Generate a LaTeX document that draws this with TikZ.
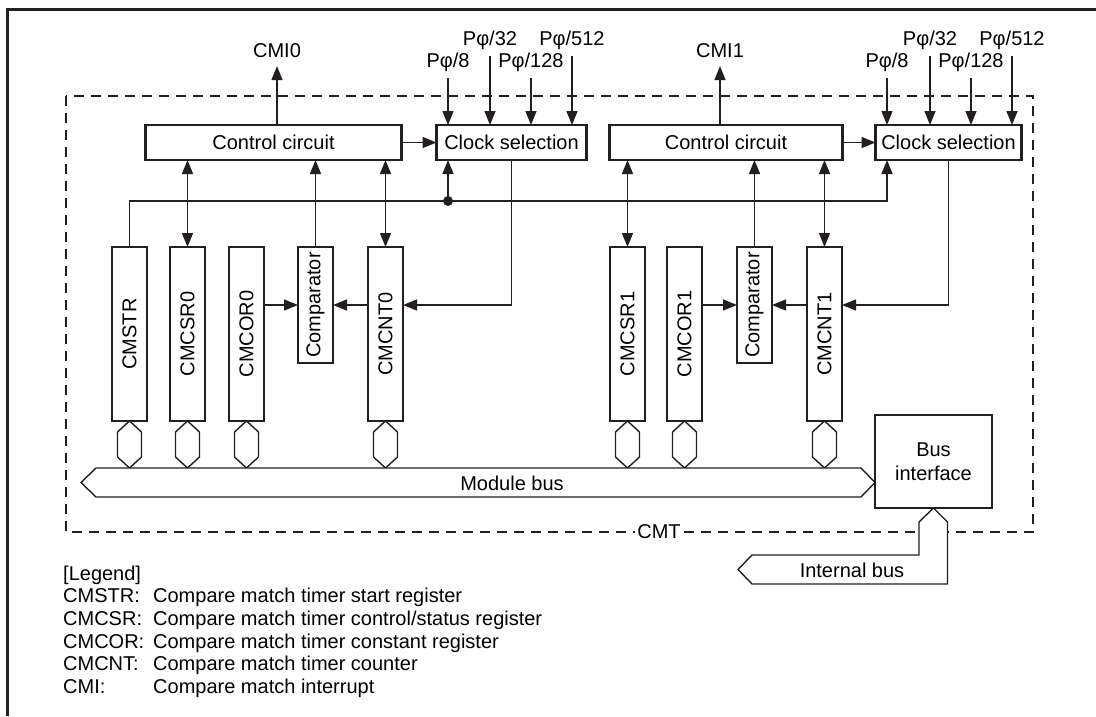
\documentclass[tikz,border=0pt]{standalone}
\usepackage{fontspec}
\setmainfont{Liberation Sans}
\usepackage{graphicx}
\usetikzlibrary{positioning,calc,arrows.meta}
\definecolor{ink}{HTML}{231F20}

\begin{document}
\begin{tikzpicture}[
      x=1pt,y=-1pt,
      font=\fontsize{20}{24}\selectfont,
      block/.style={draw=ink,line width=2.8pt,rectangle,minimum height=35pt,inner sep=0pt,outer sep=0pt},
      reg/.style={block,minimum width=35pt,minimum height=174pt},
      cmpbox/.style={reg,minimum height=116pt},
      lbl/.style={inner sep=0pt,outer sep=7pt},
      arr/.style={-{Triangle[length=14pt,width=11pt]},ink,line width=1.4pt},
      darr/.style={{Triangle[length=14pt,width=11pt]}-{Triangle[length=14pt,width=11pt]},ink,line width=1.4pt},
      wire/.style={ink,line width=1.4pt},
      port/.style={draw=ink,line width=1.4pt,fill=white}]
      \useasboundingbox[fill=white] (0,0) rectangle (1096,716);
      \draw[ink,line width=3pt] (7,716) -- (7,9) -- (1096,9);
      \draw[wire,dash pattern=on 10pt off 7pt] (66,96) rectangle (1033,532);
      \node[fill=white,inner sep=2pt] (cmt) at (659,532) {CMT};

      % channel 0
      \node[block,minimum width=256pt] (ctrl0) at (273.5,142.5) {Control circuit};
      \node[block,minimum width=150pt,right=35pt of ctrl0] (clk0) {Clock selection};
      \node[reg] (cmstr) at (129.5,334) {\rotatebox{90}{CMSTR}};
      \node[reg,right=23pt of cmstr] (cmcsr0) {\rotatebox{90}{CMCSR0}};
      \node[reg,right=24pt of cmcsr0] (cmcor0) {\rotatebox{90}{CMCOR0}};
      \node[cmpbox,anchor=north west] (cmp0) at ([xshift=34pt]cmcor0.north east) {\rotatebox{90}{Comparator}};
      \node[reg,anchor=north west] (cmcnt0) at ([xshift=35pt]cmp0.north east) {\rotatebox{90}{CMCNT0}};

      % channel 1
      \node[block,minimum width=233pt] (ctrl1) at (726,142.5) {Control circuit};
      \node[block,minimum width=146pt,right=33pt of ctrl1] (clk1) {Clock selection};
      \node[reg] (cmcsr1) at (627.5,334) {\rotatebox{90}{CMCSR1}};
      \node[reg,right=22pt of cmcsr1] (cmcor1) {\rotatebox{90}{CMCOR1}};
      \node[cmpbox,anchor=north west] (cmp1) at ([xshift=35pt]cmcor1.north east) {\rotatebox{90}{Comparator}};
      \node[reg,anchor=north west] (cmcnt1) at ([xshift=35pt]cmp1.north east) {\rotatebox{90}{CMCNT1}};

      \node[block,minimum width=117pt,minimum height=93pt,align=center] (busif) at (933.5,461.5) {Bus\\interface};

      % outside signals
      \node[lbl,outer sep=8pt] (cmi0) at (277,51) {CMI0};
      \node[lbl,outer sep=8pt] (cmi1) at (720,51) {CMI1};
      \node[lbl] (pa8) at (448,62) {Pφ/8};
      \node[lbl] (pa32) at (490,40) {Pφ/32};
      \node[lbl] (pa128) at (531,62) {Pφ/128};
      \node[lbl] (pa512) at (572,40) {Pφ/512};
      \node[lbl] (pb8) at (887,62) {Pφ/8};
      \node[lbl] (pb32) at (930,40) {Pφ/32};
      \node[lbl] (pb128) at (971,62) {Pφ/128};
      \node[lbl] (pb512) at (1012,40) {Pφ/512};
      \draw[arr] (ctrl0.north -| cmi0) -- (cmi0);
      \draw[arr] (ctrl1.north -| cmi1) -- (cmi1);
      \foreach \p in {pa8,pa32,pa128,pa512}
        \draw[arr] (\p) -- (\p |- clk0.north);
      \foreach \p in {pb8,pb32,pb128,pb512}
        \draw[arr] (\p) -- (\p |- clk1.north);

      \draw[arr] (ctrl0) -- (clk0);
      \draw[arr] (ctrl1) -- (clk1);

      % start lines
      \coordinate (tap0) at (448,201);
      \coordinate (tap1) at (887,201);
      \draw[arr] (cmstr.north) |- (tap1) -- (tap1 |- clk1.south);
      \draw[arr] (tap0) -- (tap0 |- clk0.south);
      \fill[ink] (tap0) circle (5pt);

      % registers to control
      \draw[darr] (ctrl0.south -| cmcsr0) -- (cmcsr0.north);
      \draw[darr] (ctrl0.south -| cmcnt0) -- (cmcnt0.north);
      \draw[arr] (cmp0.north) -- (cmp0.north |- ctrl0.south);
      \draw[darr] (ctrl1.south -| cmcsr1) -- (cmcsr1.north);
      \draw[darr] (ctrl1.south -| cmcnt1) -- (cmcnt1.north);
      \draw[arr] (cmp1.north) -- (cmp1.north |- ctrl1.south);

      % compare paths
      \draw[arr] (clk0.south) |- (cmcnt0.east |- cmp0.east);
      \draw[arr] (cmcor0.east |- cmp0.west) -- (cmp0.west);
      \draw[arr] (cmcnt0.west |- cmp0.east) -- (cmp0.east);
      \draw[arr] (clk1.south) |- (cmcnt1.east |- cmp1.east);
      \draw[arr] (cmcor1.east |- cmp1.west) -- (cmp1.west);
      \draw[arr] (cmcnt1.west |- cmp1.east) -- (cmp1.east);

      % buses
      \foreach \r in {cmstr,cmcsr0,cmcor0,cmcnt0,cmcsr1,cmcor1,cmcnt1}
        \draw[port] (\r.south) -- ++(12,11) -- ++(0,25) -- ++(-12,11) -- ++(-12,-11) -- ++(0,-25) -- cycle;
      \draw[port] (96,468) -- (861,468) -- (875,482.5) -- (861,497) -- (96,497) -- (81,482.5) -- cycle;
      \node (modbus) at (512,483) {Module bus};
      \draw[port] (busif.south) -- ++(14,14) -- ++(0,62) -- (752,584) -- (738,569.5) -- (752,555) -- (919,555) -- (919,522) -- cycle;
      \node (intbus) at (852,570) {Internal bus};

      % legend
      \node[anchor=north west,inner sep=0pt,font=\fontsize{20}{22.7}\selectfont] (legend) at (63,564) {%
        \begin{tabular}{@{}p{90pt}@{}l@{}}
          \multicolumn{2}{@{}l}{[Legend]}\\
          CMSTR: & Compare match timer start register\\
          CMCSR: & Compare match timer control/status register\\
          CMCOR: & Compare match timer constant register\\
          CMCNT: & Compare match timer counter\\
          CMI:   & Compare match interrupt
        \end{tabular}};
    \end{tikzpicture}
\end{document}
